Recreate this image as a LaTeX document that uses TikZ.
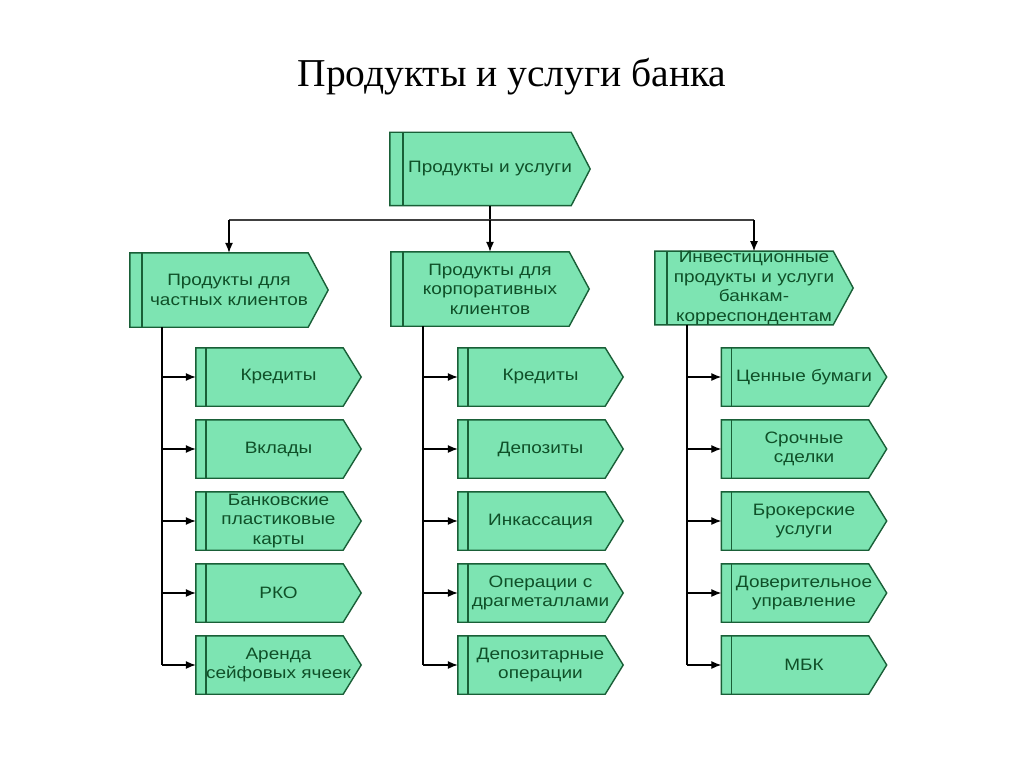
\documentclass[tikz,border=0pt]{standalone}
\usepackage{fontspec}
\setmainfont{Liberation Serif}
\newfontfamily\boxfont[FakeStretch=1.15]{Liberation Sans}
\usetikzlibrary{arrows.meta}
\definecolor{boxfill}{RGB}{125,228,178}
\definecolor{boxline}{RGB}{25,95,55}
\definecolor{boxtext}{RGB}{15,80,40}
\pgfdeclarelayer{bg}
\pgfsetlayers{bg,main}
\tikzset{
 pb/.style={rectangle, inner sep=0pt, align=center, text=boxtext, font=\boxfont\fontsize{16.5}{19.5}\selectfont},
 bigbox/.style={pb, minimum width=198pt, minimum height=74pt},
 smallbox/.style={pb, minimum width=165pt, minimum height=58pt},
 shapeline/.style={draw=boxline, fill=boxfill, line width=1.4pt, line join=miter},
 stripe/.style={draw=boxline, line width=1.6pt},
 trunk/.style={draw=black, line width=2pt},
 hline/.style={draw=black!75, line width=1.3pt},
 branch/.style={draw=black, line width=1.2pt, -{Latex[length=10pt,width=8pt]}},
}
\newcommand\pentashape[3]{%
 \path[shapeline] (#1.north west) -- ([xshift=-#2]#1.north east) -- (#1.east) -- ([xshift=-#2]#1.south east) -- (#1.south west) -- cycle;
 \draw[stripe] ([xshift=#3]#1.north west) -- ([xshift=#3]#1.south west);}
\begin{document}
\begin{tikzpicture}[x=1pt,y=1pt]
\useasboundingbox (0,0) rectangle (1024,-767);
\node[anchor=base, font=\fontsize{39.5}{44}\selectfont] (title) at (512,-87) {Продукты и услуги банка};

\node[bigbox, minimum width=200pt, minimum height=73pt] (top) at (490,-169) {Продукты и услуги};

\node[bigbox] (l) at (229,-290) {Продукты для\\частных клиентов};
\node[bigbox] (m) at (490,-289) {Продукты для\\корпоративных\\клиентов};
\node[bigbox, minimum height=70pt] (r) at (754,-288) {Инвестиционные\\продукты и услуги\\банкам-\\корреспондентам};

\node[smallbox] (l1) at (278.5,-377) {Кредиты};
\node[smallbox] (l2) at (278.5,-449) {Вклады};
\node[smallbox] (l3) at (278.5,-521) {Банковские\\пластиковые\\карты};
\node[smallbox] (l4) at (278.5,-593) {РКО};
\node[smallbox] (l5) at (278.5,-665) {Аренда\\сейфовых ячеек};

\node[smallbox] (m1) at (540.5,-377) {Кредиты};
\node[smallbox] (m2) at (540.5,-449) {Депозиты};
\node[smallbox] (m3) at (540.5,-521) {Инкассация};
\node[smallbox] (m4) at (540.5,-593) {Операции с\\драгметаллами};
\node[smallbox] (m5) at (540.5,-665) {Депозитарные\\операции};

\node[smallbox] (r1) at (804,-377) {Ценные бумаги};
\node[smallbox] (r2) at (804,-449) {Срочные\\сделки};
\node[smallbox] (r3) at (804,-521) {Брокерские\\услуги};
\node[smallbox] (r4) at (804,-593) {Доверительное\\управление};
\node[smallbox] (r5) at (804,-665) {МБК};

\begin{pgfonlayer}{bg}
\fill[white] (0,0) rectangle (1024,-767);
\pentashape{top}{19pt}{13pt}
\foreach \n in {l,m,r} {\pentashape{\n}{20pt}{12pt}}
\foreach \n in {l1,l2,l3,l4,l5,m1,m2,m3,m4,m5,r1,r2,r3,r4,r5} {\pentashape{\n}{18pt}{10pt}}
\end{pgfonlayer}

\coordinate (j) at (490,-220);
\draw[trunk] (top.south) -- (j);
\draw[hline] (l.north |- j) -- (r.north |- j);
\foreach \n in {l,m,r} {\draw[branch] (\n.north |- j) -- (\n.north);}

\foreach \p in {l,m,r} {
 \draw[trunk] ([xshift=32pt]\p.south west) -- ([xshift=32pt]\p.south west |- \p5.west);
 \foreach \i in {1,...,5} {\draw[branch] ([xshift=32pt]\p.south west |- \p\i.west) -- (\p\i.west);}
}
\end{tikzpicture}
\end{document}
